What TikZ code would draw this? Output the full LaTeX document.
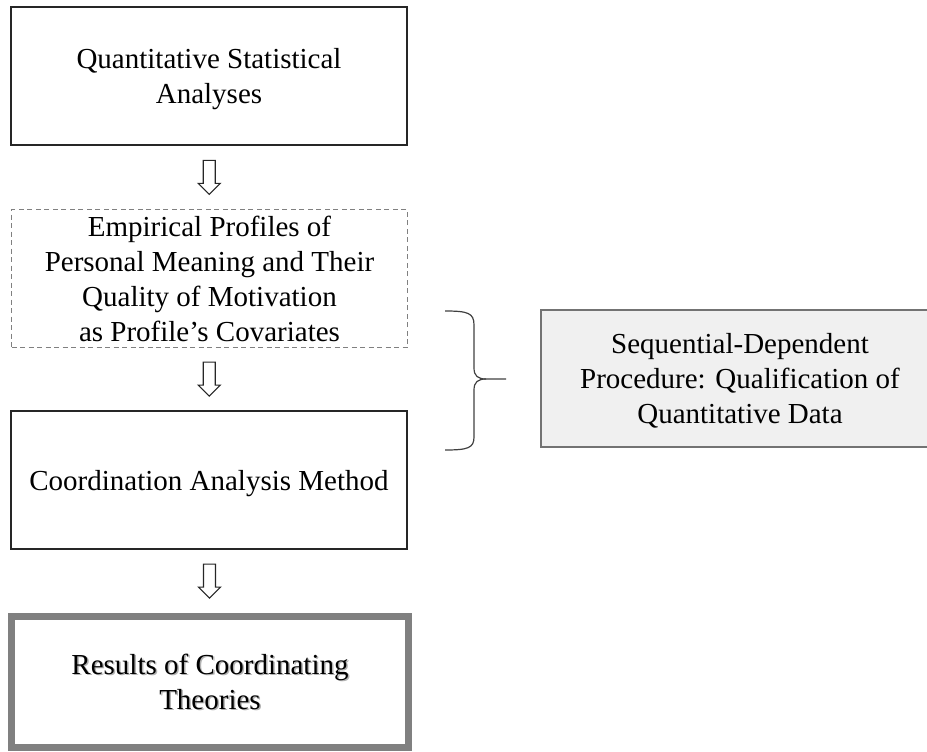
\documentclass[tikz,border=0pt]{standalone}
\usepackage{fontspec}
\setmainfont{Liberation Serif}
\usetikzlibrary{calc}

\tikzset{
  flowbox/.style={draw=black!85, line width=1.4pt, rectangle, inner sep=0pt,
    minimum width=396pt, minimum height=138pt, align=center, text depth=0pt,
    font=\fontsize{29}{35}\selectfont},
  dashbox/.style={flowbox, draw=black!50, line width=1pt, dash pattern=on 5pt off 3.5pt},
  resultbox/.style={flowbox, draw=black!50, line width=7pt, minimum width=397pt, minimum height=131pt},
  sidebox/.style={flowbox, draw=black!55, fill=black!6, line width=1.6pt,
    minimum width=398pt, minimum height=137pt},
  shadowtext/.style={align=center, text=black!30, text depth=0pt, font=\fontsize{29}{35}\selectfont},
  hollowarrow/.style={draw=black!85, line width=1.1pt, fill=white, line join=miter},
  bracestroke/.style={draw=black!75, line width=1.2pt},
  pics/downarrow/.style={code={
    \draw[hollowarrow] (-6,-17) -- (6,-17) -- (6,6) -- (11,6) -- (0,17)
      -- (-11,6) -- (-6,6) -- cycle;
  }}
}

\begin{document}
\begin{tikzpicture}[x=1pt, y=-1pt]
  \useasboundingbox (0,0) rectangle (927,752);

  % main column of steps
  \node[flowbox] (quant) at (209,76) {Quantitative Statistical\\Analyses};
  \node[dashbox] (profiles) at (209.5,278.5)
    {Empirical Profiles of\\Personal Meaning and Their\\Quality of Motivation\\as Profile's Covariates};
  \node[flowbox] (coord) at (209,480) {Coordination Analysis Method};
  \node[shadowtext] (resultshadow) at (211.5,682.5) {Results of Coordinating\\Theories};
  \node[resultbox] (results) at (210,681.5) {Results of Coordinating\\Theories};

  % side note on the qualification procedure
  \node[sidebox] (procedure) at (740,378.5)
    {Sequential-Dependent\\Procedure: Qualification of\\Quantitative Data};

  % hollow arrows between the steps
  \pic at ($(quant.south)!0.5!(profiles.north)$) {downarrow};
  \pic at ($(profiles.south)!0.5!(coord.north)$) {downarrow};
  \pic at ($(coord.south)!0.5!(results.north)$) {downarrow};

  % brace grouping the two middle steps
  \coordinate (bracetip) at (506,379);
  \draw[bracestroke] (445,311) .. controls (468,311) and (474,313) .. (474,325)
    -- (474,368) .. controls (474,376) and (478,379) .. (486,379) -- (bracetip);
  \draw[bracestroke] (486,379) .. controls (478,379) and (474,382) .. (474,390)
    -- (474,437) .. controls (474,448) and (468,450) .. (445,450);
\end{tikzpicture}
\end{document}
